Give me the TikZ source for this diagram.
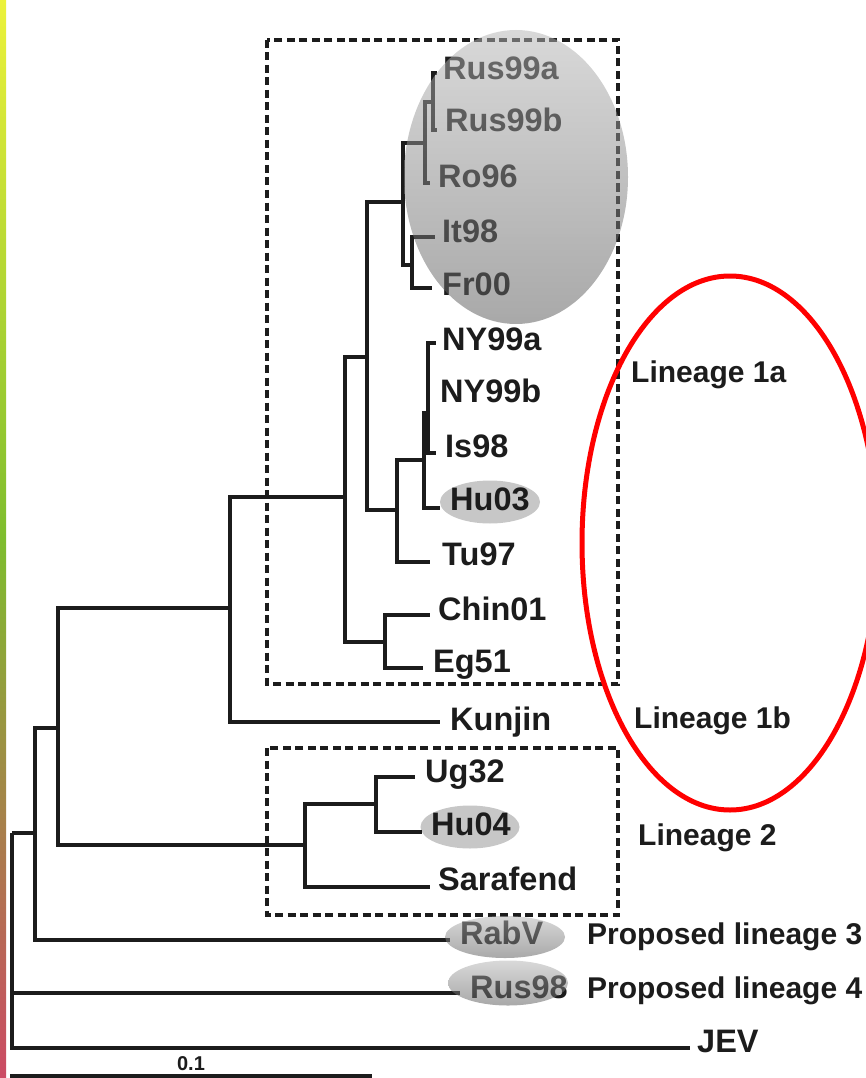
\documentclass[tikz,border=0pt]{standalone}
\usepackage{fontspec}
\setmainfont{Liberation Sans}
\usetikzlibrary{shapes.geometric}
\definecolor{ink}{HTML}{1C1C1C}
\definecolor{stripTop}{HTML}{ECF23A}
\definecolor{stripMid}{HTML}{7EBD2E}
\definecolor{stripBot}{HTML}{CC4A64}
\begin{document}
\begin{tikzpicture}[x=1pt, y=-1pt,
		branch/.style={draw=ink, line width=4.5, line join=miter},
		leaf/.style={anchor=base west, inner sep=0, text=ink, font=\fontsize{32.5}{34}\selectfont\bfseries},
		clade/.style={leaf, font=\fontsize{30}{32}\selectfont\bfseries},
		dashbox/.style={draw=ink, line width=4, dash pattern=on 8pt off 4.5pt},
		hilite/.style={ellipse, fill=black!22, inner sep=0},
		veil/.style={ellipse, inner sep=0, top color=black!29, bottom color=black!65, fill opacity=0.52},
		ring/.style={ellipse, draw=red, line width=5, inner sep=0}
		]
		
		\useasboundingbox (0,0) rectangle (865,1078);
		\shade[top color=stripTop, bottom color=stripBot, middle color=stripMid] (0,0) rectangle (6,1078);
		
		% inner nodes of the tree
		\coordinate (r) at (12,833);
		\coordinate (a) at (35,833);
		\coordinate (b) at (58,728);
		\coordinate (c) at (230,608);
		\coordinate (d) at (345,497);
		\coordinate (e) at (367,357);
		\coordinate (f) at (385,642);
		\coordinate (g) at (403,202);
		\coordinate (h) at (397,510);
		\coordinate (i) at (425,143);
		\coordinate (j) at (412,265);
		\coordinate (k) at (433,102);
		\coordinate (m) at (424,460);
		\coordinate (n) at (428,413);
		\coordinate (l2) at (305,845);
		\coordinate (o) at (376,804);
		
		% tips
		\coordinate (tRus99a) at (437,73);
		\coordinate (tRus99b) at (437,130);
		\coordinate (tRo96) at (430,183);
		\coordinate (tIt98) at (435,237);
		\coordinate (tFr00) at (432,288);
		\coordinate (tNY99a) at (436,343);
		\coordinate (tIs98) at (436,453);
		\coordinate (tHu03) at (440,508);
		\coordinate (tTu97) at (430,562);
		\coordinate (tChin01) at (430,615);
		\coordinate (tEg51) at (423,668);
		\coordinate (tKunjin) at (440,722);
		\coordinate (tUg32) at (415,777);
		\coordinate (tHu04) at (422,832);
		\coordinate (tSarafend) at (430,887);
		\coordinate (tRabV) at (450,940);
		\coordinate (tRus98) at (460,993);
		\coordinate (tJEV) at (690,1048);
		
		\node[hilite, minimum width=100, minimum height=43] (hHu03) at (490,502) {};
		\node[hilite, minimum width=99, minimum height=43] (hHu04) at (470,827) {};
		
		% branches
		\draw[branch] (r) |- (a) (r) |- (tRus98) (r) |- (tJEV);
		\draw[branch] (a) |- (b) (a) |- (tRabV);
		\draw[branch] (b) |- (c) (b) |- (l2);
		\draw[branch] (c) |- (d) (c) |- (tKunjin);
		\draw[branch] (d) |- (e) (d) |- (f);
		\draw[branch] (e) |- (g) (e) |- (h);
		\draw[branch] (f) |- (tChin01) (f) |- (tEg51);
		\draw[branch] (g) |- (i) (g) |- (j);
		\draw[branch] (i) |- (k) (i) |- (tRo96);
		\draw[branch] (k) |- (tRus99a) (k) |- (tRus99b);
		\draw[branch] (j) |- (tIt98) (j) |- (tFr00);
		\draw[branch] (h) |- (m) (h) |- (tTu97);
		\draw[branch] (m) |- (n) (m) |- (tHu03);
		\draw[branch] (n) |- (tNY99a) (n) |- (tIs98);
		\draw[branch] (l2) |- (o) (l2) |- (tSarafend);
		\draw[branch] (o) |- (tUg32) (o) |- (tHu04);
		
		% strain labels
		\node[leaf] (Rus99a) at (443,80) {Rus99a};
		\node[leaf] (Rus99b) at (445,132) {Rus99b};
		\node[leaf] (Ro96) at (438,187) {Ro96};
		\node[leaf] (It98) at (442,242) {It98};
		\node[leaf] (Fr00) at (442,295) {Fr00};
		\node[leaf] (NY99a) at (442,350) {NY99a};
		\node[leaf] (NY99b) at (440,402) {NY99b};
		\node[leaf] (Is98) at (445,457) {Is98};
		\node[leaf] (Hu03) at (450,510) {Hu03};
		\node[leaf] (Tu97) at (442,565) {Tu97};
		\node[leaf] (Chin01) at (438,620) {Chin01};
		\node[leaf] (Eg51) at (433,672) {Eg51};
		\node[leaf] (Kunjin) at (450,730) {Kunjin};
		\node[leaf] (Ug32) at (425,782) {Ug32};
		\node[leaf] (Hu04) at (431,835) {Hu04};
		\node[leaf] (Sarafend) at (438,890) {Sarafend};
		\node[leaf] (RabV) at (460,944) {RabV};
		\node[leaf] (Rus98) at (470,998) {Rus98};
		\node[leaf] (JEV) at (697,1052) {JEV};
		
		% lineage labels
		\node[clade] (lin1a) at (631,382) {Lineage 1a};
		\node[clade] (lin1b) at (634,728) {Lineage 1b};
		\node[clade] (lin2) at (638,845) {Lineage 2};
		\node[clade] (lin3) at (587,944) {Proposed lineage 3};
		\node[clade] (lin4) at (587,998) {Proposed lineage 4};
		
		\draw[dashbox] (267,40) rectangle (618,684);
		\draw[dashbox] (267,748) rectangle (618,915);
		
		\node[veil, minimum width=224, minimum height=294] (vEurope) at (516,177) {};
		\node[veil, minimum width=120, minimum height=42] (vRabV) at (505,937) {};
		\node[veil, minimum width=120, minimum height=45] (vRus98) at (508,983) {};
		
		\node[ring, minimum width=296, minimum height=534] (ring) at (730,543) {};
		
		% scale bar
		\coordinate (s0) at (10,1076);
		\coordinate (s1) at (372,1076);
		\draw[branch] (s0) -- (s1) node[midway, above, inner sep=3, text=ink, font=\fontsize{20}{21}\selectfont\bfseries] {0.1};
		
	\end{tikzpicture}
\end{document}
